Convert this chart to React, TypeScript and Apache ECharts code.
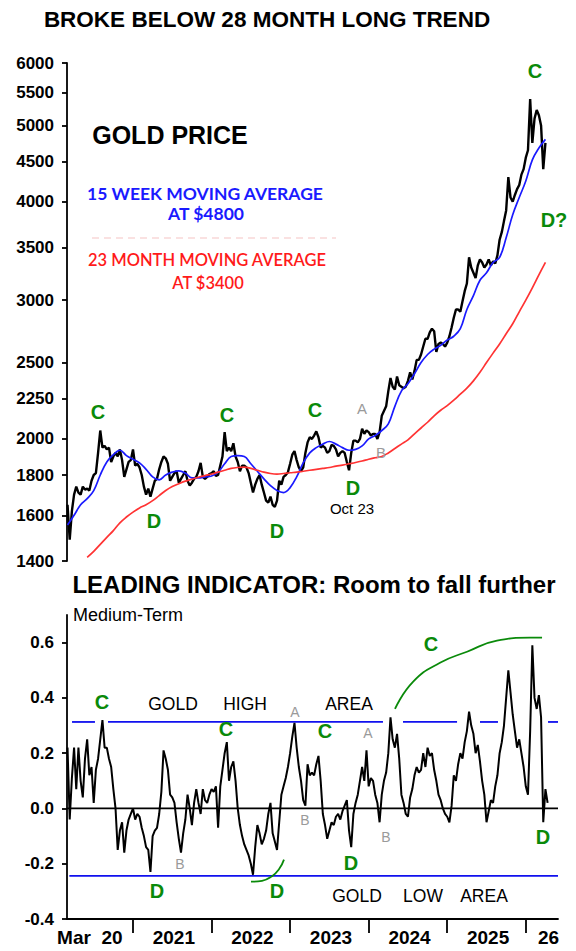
import React, { useEffect, useRef } from "react";
import * as echarts from "echarts";

// ---------- DATA ----------
// time axis in decimal years; series are sampled 3 times a month from 1 Mar 2020
const SERIES_START = 2020.1667;
const STEPS_PER_YEAR = 36;
const MONTHS_PER_YEAR = 12;
const X_MIN = 2020.16;
const X_MAX = 2026.41;

// Gold price (USD/oz), 3 readings per month, Mar 2020 .. early Apr 2026
const goldPrice = [
  1650, 1490, 1620, 1700, 1740, 1710, 1700, 1740, 1725, 1730, 1720, 1770,
  1800, 1810, 1920, 2050, 1950, 1960, 1940, 1950, 1870, 1900, 1920, 1900,
  1940, 1880, 1790, 1830, 1870, 1880,
  1940, 1850, 1860, 1840, 1800, 1740, 1700, 1730, 1690, 1730, 1770, 1780,
  1830, 1870, 1900, 1890, 1860, 1770, 1790, 1810, 1820, 1760, 1780, 1800,
  1820, 1770, 1745, 1760, 1780, 1790, 1820, 1865, 1790, 1780, 1790, 1805,
  1810, 1820, 1795, 1800, 1850, 1900, 2040, 1930, 1950, 1930, 1975, 1900,
  1870, 1820, 1850, 1850, 1840, 1810, 1760, 1710, 1750, 1780, 1800, 1750,
  1710, 1670, 1660, 1690, 1650, 1640, 1670, 1770, 1750, 1790, 1800, 1815,
  1860, 1910, 1930, 1880, 1840, 1820, 1840, 1920, 1980, 2010, 2000, 2020,
  2045, 2010, 1950, 1960, 1950, 1920, 1930, 1965, 1960, 1940, 1900, 1920,
  1930, 1920, 1870, 1825, 1920, 1990, 1990, 1980, 2000, 2060, 2030, 2050,
  2040, 2020, 2030, 2030, 2000, 2040, 2140, 2170, 2200, 2300, 2390, 2330,
  2310, 2400, 2340, 2330, 2320, 2330, 2370, 2430, 2380, 2440, 2520, 2520,
  2560, 2620, 2680, 2680, 2730, 2760, 2740, 2580, 2640, 2650, 2640, 2620,
  2650, 2700, 2770, 2850, 2920, 2920, 2900, 2990, 3080, 3150, 3400, 3300,
  3250, 3200, 3320, 3380, 3350, 3300, 3330, 3380, 3320, 3360, 3340, 3420,
  3580, 3660, 3780, 3900, 4300, 4050, 4000, 4080, 4150, 4200, 4330, 4400,
  4550, 4650, 5400, 4750, 5100, 5230, 5150, 5000, 4400, 4750,
];

// 15 week moving average, monthly, Mar 2020 .. Apr 2026
const ma15Week = [
  1555, 1600, 1650, 1680, 1720, 1800, 1870, 1910, 1935, 1905,
  1885, 1865, 1830, 1790, 1775, 1800, 1815, 1822, 1810, 1785,
  1785, 1790, 1795, 1815, 1860, 1900, 1905, 1900, 1860, 1820,
  1780, 1745, 1720, 1710, 1735, 1790, 1865, 1920, 1950, 1970,
  1985, 1970, 1950, 1935, 1940, 1960, 2000, 2020, 2050, 2090,
  2200, 2300, 2350, 2420, 2500, 2560, 2600, 2630, 2670, 2700,
  2760, 2920, 3040, 3180, 3250, 3350, 3400, 3600, 3850, 4050,
  4250, 4520, 4680, 4800,
];

// 23 month moving average, monthly, Jun 2020 .. Apr 2026
const MA23_START_MONTH = 3;
const ma23Month = [
  1415, 1440, 1470, 1500, 1530, 1565, 1592, 1615, 1635, 1650,
  1670, 1695, 1720, 1740, 1755, 1768, 1778, 1788, 1797, 1805,
  1815, 1825, 1835, 1840, 1842, 1835, 1825, 1815, 1808, 1805,
  1808, 1812, 1815, 1820, 1825, 1830, 1835, 1840, 1847, 1853,
  1860, 1867, 1875, 1885, 1893, 1900, 1920, 1945, 1970, 1995,
  2030, 2065, 2100, 2140, 2175, 2205, 2240, 2280, 2320, 2370,
  2430, 2500, 2570, 2640, 2720, 2800, 2900, 3000, 3110, 3230,
  3350,
];

// Medium-term leading indicator, 3 readings per month
const indicator = [
  0.22, -0.04, 0.11, 0.22, 0.07, 0.22, 0.10, 0.04, 0.18, 0.25,
  0.12, 0.15, 0.02, 0.14, 0.18, 0.25, 0.32, 0.22, 0.22, 0.18,
  0.15, 0.07, 0.00, -0.15, -0.08, -0.05, -0.16, -0.08, -0.04, -0.02,
  0.00, -0.04, -0.02, -0.03, -0.07, -0.10, -0.14, -0.15, -0.23, -0.10,
  -0.08, -0.07, -0.02, 0.06, 0.21, 0.18, 0.14, 0.05, 0.04, 0.02,
  -0.05, -0.11, -0.16, -0.09, -0.04, 0.05, 0.00, -0.06, 0.02, 0.07,
  0.02, -0.02, 0.07, 0.03, 0.02, 0.05, 0.07, 0.06, 0.08, -0.07,
  0.08, 0.14, 0.20, 0.24, 0.10, 0.15, 0.17, 0.10, 0.00, -0.06,
  -0.10, -0.13, -0.15, -0.17, -0.20, -0.24, -0.14, -0.06, -0.09, -0.13,
  -0.11, -0.08, -0.02, 0.02, -0.09, -0.12, -0.15, -0.05, 0.05, 0.08,
  0.11, 0.15, 0.20, 0.26, 0.31, 0.22, 0.15, 0.10, 0.03, 0.01,
  0.16, 0.12, 0.13, 0.12, 0.16, 0.19, 0.10, -0.02, -0.06, -0.11,
  -0.08, -0.05, -0.06, -0.03, -0.02, -0.04, -0.01, 0.01, 0.03, -0.08,
  -0.14, -0.02, 0.02, 0.05, 0.10, 0.15, 0.10, 0.21, 0.08, 0.11,
  0.10, 0.05, 0.02, -0.05, 0.05, 0.10, 0.13, 0.20, 0.33, 0.25,
  0.22, 0.27, 0.18, 0.05, 0.02, -0.02, -0.03, 0.04, 0.07, 0.12,
  0.15, 0.13, 0.14, 0.20, 0.15, 0.22, 0.19, 0.20, 0.14, 0.10,
  0.05, 0.03, 0.00, -0.02, -0.03, -0.05, 0.01, 0.12, 0.10, 0.16,
  0.20, 0.18, 0.24, 0.28, 0.35, 0.30, 0.27, 0.20, 0.23, 0.17,
  0.10, 0.05, -0.05, -0.01, 0.03, 0.02, 0.08, 0.12, 0.20, 0.24,
  0.30, 0.40, 0.50, 0.42, 0.34, 0.28, 0.22, 0.25, 0.20, 0.15,
  0.08, 0.05, 0.28, 0.59, 0.40, 0.36, 0.41, 0.33, -0.05, 0.07,
  0.02,
];

const priceTicks = [1400, 1600, 1800, 2000, 2250, 2500, 3000, 3500, 4000, 4500, 5000, 5500, 6000];
const indicatorTicks = [-0.4, -0.2, 0, 0.2, 0.4, 0.6];
const yearTicks = [2021, 2022, 2023, 2024, 2025, 2026];
const yearLabelPos = [2020.45, 2021.52, 2022.52, 2023.52, 2024.52, 2025.52, 2026.29];
const yearLabelText = ["Mar  20", "2021", "2022", "2023", "2024", "2025", "26"];

// annotation lines on the indicator panel
const highAreaLevel = 0.313;
const highAreaSegments = [
  [2020.224, 2020.516],
  [2020.682, 2024.182],
  [2024.437, 2025.125],
  [2025.417, 2025.646],
  [2026.283, 2026.41],
];
const lowAreaLevel = -0.244;
const lowAreaRange = [2020.19, 2026.41];
const upperArc = [
  [2024.335, 0.36], [2024.564, 0.458], [2024.908, 0.527], [2025.252, 0.567],
  [2025.633, 0.607], [2026.054, 0.618], [2026.207, 0.618],
];
const lowerArc = [
  [2022.502, -0.265], [2022.642, -0.262], [2022.769, -0.245], [2022.858, -0.22], [2022.922, -0.185],
];

// ---------- CHART ----------
const ARIAL = "'Liberation Sans', Arial, Helvetica, sans-serif";
const CAL = "Lato, 'Open Sans', sans-serif";
const GREEN = "#0a8a0a";
const GRAY = "#9a9a9a";

type Txt = { t: string; x: number; y: number; c?: string; s?: number; w?: string; f?: string; a?: string };
const txt = (o: Txt) => ({
  type: "text",
  x: o.x,
  y: o.y,
  silent: true,
  z: 100,
  style: {
    text: o.t,
    fill: o.c || "#000",
    fontSize: o.s || 20,
    fontWeight: o.w || "bold",
    fontFamily: o.f || ARIAL,
    align: o.a || "center",
    verticalAlign: "middle",
    textAlign: o.a || "center",
    textVerticalAlign: "middle",
  },
});

export default function App() {
  const ref = useRef<HTMLDivElement>(null);
  useEffect(() => {
    if (!ref.current) return;
    const chart = echarts.init(ref.current, null, { renderer: "svg" });
    const lg = (v: number) => Math.log10(v);
    const priceData = goldPrice.map((v, j) => [SERIES_START + j / STEPS_PER_YEAR, lg(v)]);
    const ma15Data = ma15Week.map((v, m) => [SERIES_START + m / MONTHS_PER_YEAR, lg(v)]);
    const ma23Data = ma23Month.map((v, i) => [SERIES_START + (i + MA23_START_MONTH) / MONTHS_PER_YEAR, lg(v)]);
    const indData = indicator.map((v, j) => [SERIES_START + j / STEPS_PER_YEAR, v]);
    const logTicks = priceTicks.map(lg);

    const axisLine = { show: true, onZero: false, lineStyle: { color: "#000", width: 1.8 } };
    const tickStyle = { color: "#000", width: 1.8 };

    const levelSeries = highAreaSegments.map((seg) => ({
      type: "line",
      xAxisIndex: 1,
      yAxisIndex: 1,
      data: [[seg[0], highAreaLevel], [seg[1], highAreaLevel]],
      symbol: "none",
      lineStyle: { color: "#1010ee", width: 1.8 },
      silent: true,
      z: 3,
    }));

    const texts: Txt[] = [
      { t: "BROKE BELOW 28 MONTH LONG TREND", x: 267, y: 19, s: 22.5 },
      { t: "GOLD PRICE", x: 170, y: 135, s: 25 },
      { t: "15 WEEK MOVING AVERAGE", x: 205, y: 193, s: 17.5, c: "#1a1aff", f: CAL },
      { t: "AT $4800", x: 206, y: 213, s: 17.5, c: "#1a1aff", f: CAL },
      { t: "23 MONTH MOVING AVERAGE", x: 207, y: 260, s: 16.5, c: "#ff1a1a", f: CAL, w: "600" },
      { t: "AT $3400", x: 208, y: 283, s: 16.5, c: "#ff1a1a", f: CAL, w: "600" },
      { t: "C", x: 98, y: 412, c: GREEN },
      { t: "D", x: 154, y: 521, c: GREEN },
      { t: "C", x: 227, y: 415, c: GREEN },
      { t: "D", x: 277, y: 531, c: GREEN },
      { t: "C", x: 315, y: 410, c: GREEN },
      { t: "D", x: 353, y: 488, c: GREEN },
      { t: "Oct 23", x: 352, y: 508, s: 15, w: "normal" },
      { t: "A", x: 362, y: 408, s: 15, w: "normal", c: GRAY },
      { t: "B", x: 381, y: 452, s: 15, w: "normal", c: GRAY },
      { t: "C", x: 535, y: 71, c: GREEN },
      { t: "D?", x: 554, y: 220, c: GREEN },
      { t: "LEADING INDICATOR: Room to fall further", x: 314, y: 584, s: 24 },
      { t: "Medium-Term", x: 73, y: 615, s: 18, w: "normal", a: "left" },
      { t: "C", x: 102, y: 702, c: GREEN },
      { t: "GOLD", x: 173, y: 704, s: 17.5, w: "normal" },
      { t: "HIGH", x: 245, y: 704, s: 17.5, w: "normal" },
      { t: "AREA", x: 349, y: 704, s: 17.5, w: "normal" },
      { t: "A", x: 295, y: 712, s: 14, w: "normal", c: GRAY },
      { t: "C", x: 226, y: 729, c: GREEN },
      { t: "C", x: 325, y: 731, c: GREEN },
      { t: "A", x: 368, y: 733, s: 14, w: "normal", c: GRAY },
      { t: "C", x: 431, y: 644, c: GREEN },
      { t: "B", x: 180, y: 864, s: 14, w: "normal", c: GRAY },
      { t: "D", x: 157, y: 891, c: GREEN },
      { t: "D", x: 277, y: 891, c: GREEN },
      { t: "B", x: 305, y: 820, s: 14, w: "normal", c: GRAY },
      { t: "B", x: 386, y: 837, s: 14, w: "normal", c: GRAY },
      { t: "D", x: 351, y: 863, c: GREEN },
      { t: "D", x: 543, y: 837, c: GREEN },
      { t: "GOLD", x: 357, y: 896, s: 17.5, w: "normal" },
      { t: "LOW", x: 423, y: 896, s: 17.5, w: "normal" },
      { t: "AREA", x: 484, y: 896, s: 17.5, w: "normal" },
    ];

    const option: any = {
      animation: false,
      backgroundColor: "#fff",
      grid: [
        { left: 67, right: 18, top: 63, height: 498 },
        { left: 67, right: 18, top: 615, height: 304 },
      ],
      xAxis: [
        { gridIndex: 0, type: "value", min: X_MIN, max: X_MAX, show: false },
        {
          gridIndex: 1,
          type: "value",
          min: X_MIN,
          max: X_MAX,
          axisLine,
          axisTick: { show: true, customValues: yearTicks, length: 14, lineStyle: tickStyle },
          axisLabel: {
            customValues: yearLabelPos,
            formatter: (v: number) => {
              const i = yearLabelPos.findIndex((p) => Math.abs(p - v) < 1e-6);
              return i >= 0 ? yearLabelText[i] : "";
            },
            color: "#000",
            fontWeight: "bold",
            fontSize: 19,
            fontFamily: ARIAL,
            margin: 9,
          },
          splitLine: { show: false },
        },
      ],
      yAxis: [
        {
          gridIndex: 0,
          type: "value",
          min: lg(1400),
          max: lg(6000),
          axisLine,
          axisTick: { show: true, customValues: logTicks, length: 5, lineStyle: tickStyle },
          axisLabel: {
            customValues: logTicks,
            formatter: (v: number) => String(Math.round(Math.pow(10, v))),
            color: "#000",
            fontWeight: "bold",
            fontSize: 17,
            fontFamily: ARIAL,
            margin: 13,
          },
          splitLine: { show: false },
        },
        {
          gridIndex: 1,
          type: "value",
          min: -0.4,
          max: 0.7,
          axisLine,
          axisTick: { show: true, customValues: indicatorTicks, length: 5, lineStyle: tickStyle },
          axisLabel: {
            customValues: indicatorTicks,
            formatter: (v: number) => v.toFixed(1),
            color: "#000",
            fontWeight: "bold",
            fontSize: 17,
            fontFamily: ARIAL,
            margin: 13,
          },
          splitLine: { show: false },
        },
      ],
      series: [
        {
          type: "line", xAxisIndex: 0, yAxisIndex: 0, data: priceData, symbol: "none",
          lineStyle: { color: "#000", width: 2.4 }, silent: true, z: 2,
        },
        {
          type: "line", xAxisIndex: 0, yAxisIndex: 0, data: ma15Data, symbol: "none", smooth: 0.4,
          lineStyle: { color: "#1a1aff", width: 1.7 }, silent: true, z: 3,
        },
        {
          type: "line", xAxisIndex: 0, yAxisIndex: 0, data: ma23Data, symbol: "none", smooth: 0.4,
          lineStyle: { color: "#ff3333", width: 1.7 }, silent: true, z: 3,
        },
        {
          type: "line", xAxisIndex: 1, yAxisIndex: 1, data: [[X_MIN, 0], [X_MAX, 0]], symbol: "none",
          lineStyle: { color: "#000", width: 1.8 }, silent: true, z: 1,
        },
        ...levelSeries,
        {
          type: "line", xAxisIndex: 1, yAxisIndex: 1,
          data: [[lowAreaRange[0], lowAreaLevel], [lowAreaRange[1], lowAreaLevel]], symbol: "none",
          lineStyle: { color: "#1010ee", width: 1.8 }, silent: true, z: 3,
        },
        {
          type: "line", xAxisIndex: 1, yAxisIndex: 1, data: upperArc, symbol: "none", smooth: true,
          lineStyle: { color: GREEN, width: 1.8 }, silent: true, z: 3,
        },
        {
          type: "line", xAxisIndex: 1, yAxisIndex: 1, data: lowerArc, symbol: "none", smooth: true,
          lineStyle: { color: GREEN, width: 1.8 }, silent: true, z: 3,
        },
        {
          type: "line", xAxisIndex: 1, yAxisIndex: 1, data: indData, symbol: "none",
          lineStyle: { color: "#000", width: 2 }, silent: true, z: 4,
        },
      ],
      graphic: [
        {
          type: "line",
          silent: true,
          shape: { x1: 92, y1: 238, x2: 336, y2: 238 },
          style: { stroke: "#f6c4c4", lineWidth: 1.2, lineDash: [7, 5] },
        },
        ...texts.map(txt),
      ],
    };
    chart.setOption(option);
    return () => chart.dispose();
  }, []);

  return (
    <div
      ref={ref}
      style={{ position: "absolute", left: 0, top: 0, width: 576, height: 951, background: "#fff" }}
    />
  );
}
